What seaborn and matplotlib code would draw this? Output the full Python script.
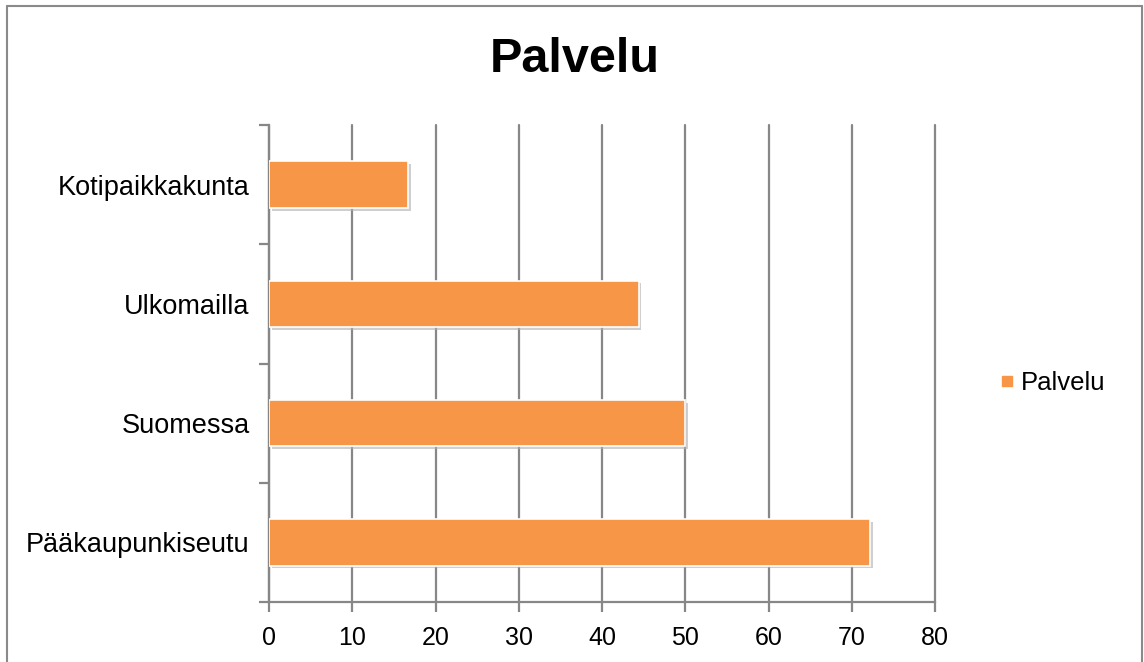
import numpy as np
import pandas as pd
import matplotlib
matplotlib.use("Agg")
import matplotlib.pyplot as plt
import matplotlib.patheffects as pe
from matplotlib.lines import Line2D
import seaborn as sns

# chart data
categories = ["Kotipaikkakunta", "Ulkomailla", "Suomessa", "Pääkaupunkiseutu"]
values = [16.7, 44.4, 50.0, 72.2]
series_name = "Palvelu"
x_ticks = [0, 10, 20, 30, 40, 50, 60, 70, 80]

sns.set_style("white")
plt.rcParams['font.family'] = ['Liberation Sans', 'DejaVu Sans']
plt.rcParams['text.color'] = 'black'
plt.rcParams['xtick.color'] = 'black'
plt.rcParams['ytick.color'] = 'black'

df = pd.DataFrame({"kategoria": categories, "arvo": values})

fig = plt.figure(figsize=(11.44, 6.62), dpi=100)
ax = fig.add_axes([269 / 1144, 1 - 602 / 662, (935 - 269) / 1144, (602 - 125) / 662])

grey = "#878787"
orange = "#F79646"

sns.barplot(data=df, y="kategoria", x="arvo", orient="h", color=orange,
            width=0.39, saturation=1, ax=ax, zorder=3)
for bar in ax.patches:
    bar.set_edgecolor("white")
    bar.set_linewidth(1.2)
    bar.set_path_effects([pe.SimplePatchShadow(offset=(2, -2), shadow_rgbFace="#b0b0b0", alpha=0.6),
                          pe.Normal()])

ax.set_xlim(0, 80)
ax.set_ylim(len(categories) - 0.5, -0.5)
ax.set_xticks(x_ticks)
ax.set_xticklabels([str(t) for t in x_ticks], fontsize=18)
ax.set_yticks(range(len(categories)))
ax.set_yticklabels(categories, fontsize=19.5)
ax.set_yticks(np.arange(-0.5, len(categories), 1), minor=True)
ax.set_xlabel("")
ax.set_ylabel("")

ax.xaxis.grid(True, color=grey, linewidth=1.6, zorder=0)
for gl in ax.get_xgridlines():
    gl.set_clip_on(False)
ax.set_axisbelow(True)
for side in ["top", "right"]:
    ax.spines[side].set_visible(False)
for side in ["left", "bottom"]:
    ax.spines[side].set_color(grey)
    ax.spines[side].set_linewidth(1.6)

ax.tick_params(axis="y", which="major", left=False, length=0, pad=14)
ax.tick_params(axis="y", which="minor", left=True, length=7, width=1.6, color=grey, direction="out")
ax.tick_params(axis="x", which="major", bottom=True, length=7, width=1.6, color=grey,
               direction="out", pad=10)

fig.text(575 / 1144, 1 - 60 / 662, "Palvelu", ha="center", va="center",
         fontsize=35, fontweight="bold")

handle = Line2D([], [], marker="s", linestyle="none", markersize=7.5,
                markerfacecolor=orange, markeredgecolor=orange)
fig.legend([handle], [series_name], loc="center left",
           bbox_to_anchor=(971 / 1144, 1 - 383 / 662), frameon=False,
           fontsize=18.5, handletextpad=0.05, handlelength=1.0)

# outer frame of the chart area
frame_col = "#8a8a8a"
fig.add_artist(Line2D([7 / 1144, 7 / 1144], [0, 1 - 6 / 662], transform=fig.transFigure,
                      color=frame_col, linewidth=1.5))
fig.add_artist(Line2D([7 / 1144, 1142 / 1144], [1 - 6 / 662, 1 - 6 / 662], transform=fig.transFigure,
                      color=frame_col, linewidth=1.5))
fig.add_artist(Line2D([1142 / 1144, 1142 / 1144], [0, 1 - 6 / 662], transform=fig.transFigure,
                      color=frame_col, linewidth=1.5))

fig.savefig("out.png", dpi=100)
